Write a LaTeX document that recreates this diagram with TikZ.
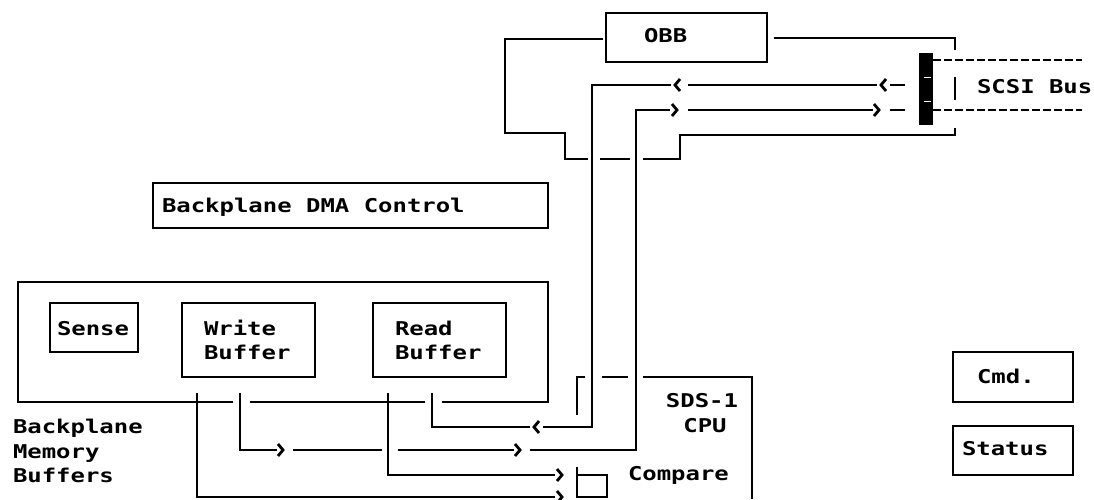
\documentclass[tikz,border=0pt]{standalone}
\usepackage{fontspec}
\newfontfamily\plotfont[FakeStretch=1.26]{DejaVu Sans Mono}
\tikzset{
  ln/.style={line width=2.8pt},
  box/.style={draw, line width=2.8pt, inner sep=0pt, outer sep=0pt, anchor=north west},
  lbl/.style={font=\plotfont\bfseries\fontsize{19}{24}\selectfont, inner sep=0pt, outer sep=0pt, anchor=base west},
  lblc/.style={lbl, anchor=base},
  chevR/.pic={\draw[ln] (-5,-6) -- (0,0) -- (-5,6);},
  chevL/.pic={\draw[ln] (5,-6) -- (0,0) -- (5,6);},
  dashbus/.style={line width=2.4pt, dash pattern=on 8pt off 3pt},
}
\begin{document}
\begin{tikzpicture}[x=1pt, y=-1pt]
\useasboundingbox (0,0) rectangle (1094,499);

% ---------- boxes ----------
\node[box, minimum width=161pt, minimum height=49pt] (obb) at (606,13) {};
\node[lbl] (obbt) at (644,42) {OBB};

\node[box, minimum width=395pt, minimum height=45pt] (dma) at (153,183) {};
\node[lbl] (dmat) at (162,212) {Backplane DMA Control};

\node[box, minimum width=88pt, minimum height=49pt] (sense) at (50,303) {};
\node[lbl] (senset) at (57,335) {Sense};

\node[box, minimum width=133pt, minimum height=74pt] (wbuf) at (182,303) {};
\node[lbl] (wbuft1) at (204,335) {Write};
\node[lbl] (wbuft2) at (204,359) {Buffer};

\node[box, minimum width=133pt, minimum height=74pt] (rbuf) at (373,303) {};
\node[lbl] (rbuft1) at (395,335) {Read};
\node[lbl] (rbuft2) at (395,359) {Buffer};

\node[box, minimum width=120pt, minimum height=50pt] (cmd) at (953,352) {};
\node[lbl] (cmdt) at (977,383) {Cmd.};

\node[box, minimum width=120pt, minimum height=49pt] (status) at (953,426) {};
\node[lbl] (statust) at (962,455) {Status};

% memory buffers enclosure
\coordinate (mA) at (18,282);
\coordinate (mB) at (548,402);
\draw[ln] (233,402) -- (18,402) -- (mA) -- (548,282) -- (mB) -- (442,402);
\draw[ln] (425,402) -- (250,402);
\node[lbl] (bmb1) at (13,433) {Backplane};
\node[lbl] (bmb2) at (13,458) {Memory};
\node[lbl] (bmb3) at (13,482) {Buffers};

% CPU box
\draw[ln] (585,377) -- (577,377) -- (577,415);
\draw[ln] (602,377) -- (628,377);
\draw[ln] (643,377) -- (752,377) -- (752,499);
\node[lblc] (sds) at (702,407) {SDS-1};
\node[lblc] (cpu) at (705,432) {CPU};

% compare box
\coordinate (cmpA) at (577,467);
\draw[ln] (cmpA) -- (577,497) -- (607,497) -- (607,475) -- (577,475);
\node[lbl] (cmpt) at (628,480) {Compare};

% ---------- OBB enclosure ----------
\coordinate (obbL) at (603,39);
\coordinate (obbR) at (774,38);
\draw[ln] (obbL) -- (505,39) -- (505,133) -- (565,133) -- (565,159) -- (588,159);
\draw[ln] (600,159) -- (630,159);
\draw[ln] (643,159) -- (680,159) -- (680,135) -- (955,135) -- (955,128);
\draw[ln] (obbR) -- (955,38) -- (955,50);
\draw[ln] (955,77) -- (955,100);

% SCSI connector bar and bus
\fill (919,53) rectangle (933,125);
\draw[white, line width=1pt] (924,77) -- (931,77) (924,101) -- (931,101);
\draw[dashbus] (933,60) -- (1082,60);
\draw[dashbus] (933,110) -- (1082,110);
\node[lbl] (scsi) at (977,93) {SCSI Bus};

% ---------- read path (SCSI -> Read Buffer) ----------
\draw[ln] (432,393) -- (432,427) -- (530,427);
\pic at (534,427) {chevL};
\draw[ln] (543,427) -- (592,427) -- (592,85) -- (671,85);
\pic at (675,85) {chevL};
\draw[ln] (688,85) -- (877,85);
\pic at (881,85) {chevL};
\draw[ln] (890,85) -- (905,85);

% ---------- write path (Write Buffer -> SCSI) ----------
\draw[ln] (240,393) -- (240,450) -- (277,450);
\pic at (283,450) {chevR};
\draw[ln] (293,450) -- (382,450);
\draw[ln] (398,450) -- (514,450);
\pic at (520,450) {chevR};
\draw[ln] (530,450) -- (636,450) -- (636,110) -- (670,110);
\pic at (677,110) {chevR};
\draw[ln] (688,110) -- (873,110);
\pic at (879,110) {chevR};
\draw[ln] (890,110) -- (905,110);

% ---------- compare paths ----------
\draw[ln] (388,393) -- (388,475) -- (555,475);
\pic at (562,475) {chevR};
\draw[ln] (197,393) -- (197,497) -- (555,497);
\pic at (562,497) {chevR};
\end{tikzpicture}
\end{document}
